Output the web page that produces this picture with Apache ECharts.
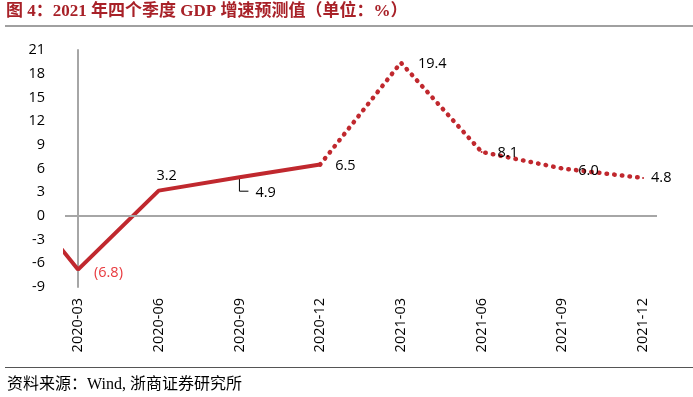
<!DOCTYPE html>
<html>
<head>
<meta charset="utf-8">
<script src="https://cdn.jsdelivr.net/npm/echarts@6/dist/echarts.min.js"></script>
<style>
  html, body { margin: 0; padding: 0; background: #fff; }
  #chart { width: 693px; height: 397px; }
</style>
</head>
<body>
<div id="chart"></div>
<script>
// 横轴刻度（季度）
const tickLabels = ['2020-03', '2020-06', '2020-09', '2020-12', '2021-03', '2021-06', '2021-09', '2021-12'];
// 实际值（含图外的 2019-12，用于画出左侧被裁掉的一段）
const actualCats = ['2019-12', '2020-03', '2020-06', '2020-09', '2020-12'];
const actualValues = [6.0, -6.8, 3.2, 4.9, 6.5];
// 预测值
const forecastCats = ['2020-12', '2021-03', '2021-06', '2021-09', '2021-12'];
const forecastValues = [6.5, 19.4, 8.1, 6.0, 4.8];
// 纵轴
const yMin = -9, yMax = 21, yStep = 3;

const allCats = ['2019-12'].concat(tickLabels);
const pos = c => allCats.indexOf(c) - 1;

const RED = '#C0282E';
const FONT = '"Open Sans", "Noto Sans CJK SC", sans-serif';

// 每个数据标签的摆放
const labelLayout = {
    '2020-03': { position: 'right', distance: 15, offset: [0, 3], color: '#E8393E' },
    '2020-06': { position: 'top', distance: 6, offset: [8, 0] },
    '2020-09': { position: 'right', distance: 15, offset: [0, 16] },
    '2020-12': { position: 'right', distance: 14, offset: [0, 1] },
    '2021-03': { position: 'right', distance: 16, offset: [0, 1] },
    '2021-06': { position: 'right', distance: 15, offset: [0, 1] },
    '2021-09': { position: 'right', distance: 15, offset: [0, 2] },
    '2021-12': { position: 'right', distance: 7, offset: [0, 0] }
};

function buildData(cats, values, skip) {
    return cats.map((c, i) => {
        const lay = labelLayout[c];
        const show = !!lay && skip.indexOf(c) < 0;
        return {
            value: [pos(c), values[i]],
            label: show ? Object.assign({ show: true }, lay) : { show: false }
        };
    });
}

const leaderCat = '2020-09';
const leaderData = [[pos(leaderCat), actualValues[actualCats.indexOf(leaderCat)]]];

const chart = echarts.init(document.getElementById('chart'));
chart.setOption({
    animation: false,
    grid: { left: 65, right: 36, top: 50, bottom: 110 },
    xAxis: {
        type: 'value',
        min: -0.161,
        max: 7.173,
        axisLine: { show: false },
        axisTick: { show: false },
        splitLine: { show: false },
        axisLabel: {
            customValues: tickLabels.map((c, i) => i),
            formatter: v => tickLabels[Math.round(v)],
            rotate: 90,
            margin: 11,
            fontSize: 14.5,
            color: '#000',
            fontFamily: FONT
        }
    },
    yAxis: {
        type: 'value',
        min: yMin,
        max: yMax,
        interval: yStep,
        axisLine: { show: true, lineStyle: { color: '#A6A6A6', width: 2 } },
        axisTick: { show: false },
        splitLine: { show: false },
        axisLabel: { color: '#000', fontSize: 14.5, margin: 20, fontFamily: FONT }
    },
    graphic: [
        {
            type: 'text', left: 6, top: 3,
            style: {
                text: '图 4：2021 年四个季度 GDP 增速预测值（单位：%）',
                font: 'bold 17px "Liberation Serif", "Noto Sans CJK SC", serif',
                fill: '#A82128'
            }
        },
        { type: 'rect', shape: { x: 5, y: 25, width: 688, height: 2 }, style: { fill: '#A0A0A0' } },
        { type: 'rect', shape: { x: 5, y: 367, width: 688, height: 1 }, style: { fill: '#555' } },
        {
            type: 'text', left: 7, top: 377,
            style: {
                text: '资料来源：Wind, 浙商证券研究所',
                font: '16px "Liberation Serif", "Noto Sans CJK SC", serif',
                fill: '#000'
            }
        }
    ],
    series: [
        {
            type: 'custom',
            z: 1,
            silent: true,
            data: leaderData,
            renderItem: (params, api) => {
                const p = api.coord([api.value(0), api.value(1)]);
                return {
                    type: 'polyline',
                    shape: { points: [[p[0], p[1]], [p[0], p[1] + 14], [p[0] + 9, p[1] + 14]] },
                    style: { stroke: '#000', lineWidth: 1, fill: null }
                };
            }
        },
        {
            type: 'line',
            z: 3,
            data: buildData(actualCats, actualValues, []),
            symbol: 'circle',
            symbolSize: 2,
            itemStyle: { color: RED },
            lineStyle: { color: RED, width: 4 },
            label: { fontSize: 14.5, color: '#000', fontFamily: FONT, formatter: p => p.value[1] < 0 ? '(' + Math.abs(p.value[1]).toFixed(1) + ')' : p.value[1].toFixed(1) },
            emphasis: { disabled: true },
            markLine: {
                silent: true,
                symbol: 'none',
                label: { show: false },
                lineStyle: { color: '#A6A6A6', width: 2, type: 'solid' },
                data: [{ yAxis: 0 }]
            }
        },
        {
            type: 'line',
            z: 3,
            data: buildData(forecastCats, forecastValues, ['2020-12']),
            symbol: 'circle',
            symbolSize: 2,
            itemStyle: { color: RED },
            lineStyle: { color: RED, width: 4.5, type: [0.5, 7.2], cap: 'round' },
            label: { fontSize: 14.5, color: '#000', fontFamily: FONT, formatter: p => p.value[1].toFixed(1) },
            emphasis: { disabled: true }
        }
    ]
});
</script>
</body>
</html>
